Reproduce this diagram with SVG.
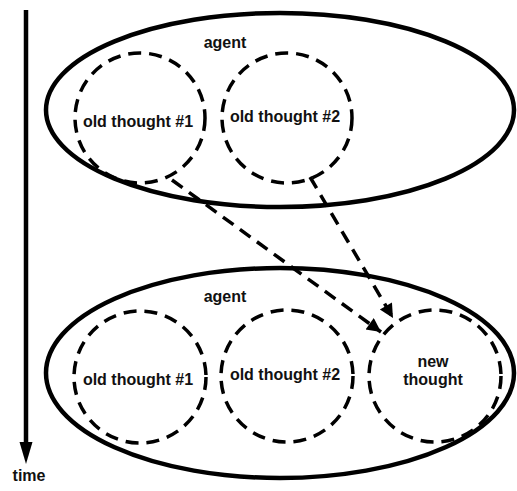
<svg xmlns="http://www.w3.org/2000/svg" width="517" height="491" viewBox="0 0 517 491">
<style>
.agent{fill:none;stroke:#000;stroke-width:4.5}
.thought{fill:none;stroke:#000;stroke-width:3.5;stroke-dasharray:13 8}
.lbl{font-family:"Liberation Sans",Arial,sans-serif;font-weight:bold;font-size:16px;fill:#111;text-anchor:middle}
.conn{fill:none;stroke:#000;stroke-width:3.5;stroke-dasharray:13 8}
</style>
<defs>
<marker id="ah" viewBox="0 0 10 10" refX="10" refY="5" markerWidth="19" markerHeight="14" markerUnits="userSpaceOnUse" orient="auto">
<path d="M0,0 L10,5 L0,10 Z" fill="#000"/>
</marker>
</defs>
<rect width="517" height="491" fill="#fff"/>
<g id="time-axis">
<line x1="26" y1="10" x2="26" y2="444" stroke="#000" stroke-width="4.5"/>
<path d="M19.5,442 L32.5,442 L26,464 Z" fill="#000"/>
<text class="lbl" x="29" y="481" font-size="14.5">time</text>
</g>
<g id="agent-top">
<ellipse class="agent" cx="280" cy="110" rx="234" ry="97"/>
<text class="lbl" x="225" y="48">agent</text>
</g>
<g id="old-thought-1-top">
<circle class="thought" cx="140" cy="118" r="65"/>
<text class="lbl" x="138" y="127">old thought #1</text>
</g>
<g id="old-thought-2-top">
<circle class="thought" cx="287" cy="118" r="65"/>
<text class="lbl" x="285" y="122">old thought #2</text>
</g>
<g id="agent-bottom">
<ellipse class="agent" cx="280" cy="373" rx="234" ry="105"/>
<text class="lbl" x="225" y="302">agent</text>
</g>
<g id="old-thought-1-bottom">
<circle class="thought" cx="140" cy="377" r="66"/>
<text class="lbl" x="138" y="385">old thought #1</text>
</g>
<g id="old-thought-2-bottom">
<circle class="thought" cx="287" cy="376" r="66"/>
<text class="lbl" x="285" y="380">old thought #2</text>
</g>
<g id="new-thought">
<circle class="thought" cx="435" cy="376" r="66"/>
<text class="lbl" x="433" y="367">new</text>
<text class="lbl" x="433" y="385">thought</text>
</g>
<g id="connectors">
<line class="conn" x1="172" y1="180" x2="381" y2="332" marker-end="url(#ah)"/>
<line class="conn" x1="310" y1="177" x2="393" y2="318" marker-end="url(#ah)"/>
</g>
</svg>
